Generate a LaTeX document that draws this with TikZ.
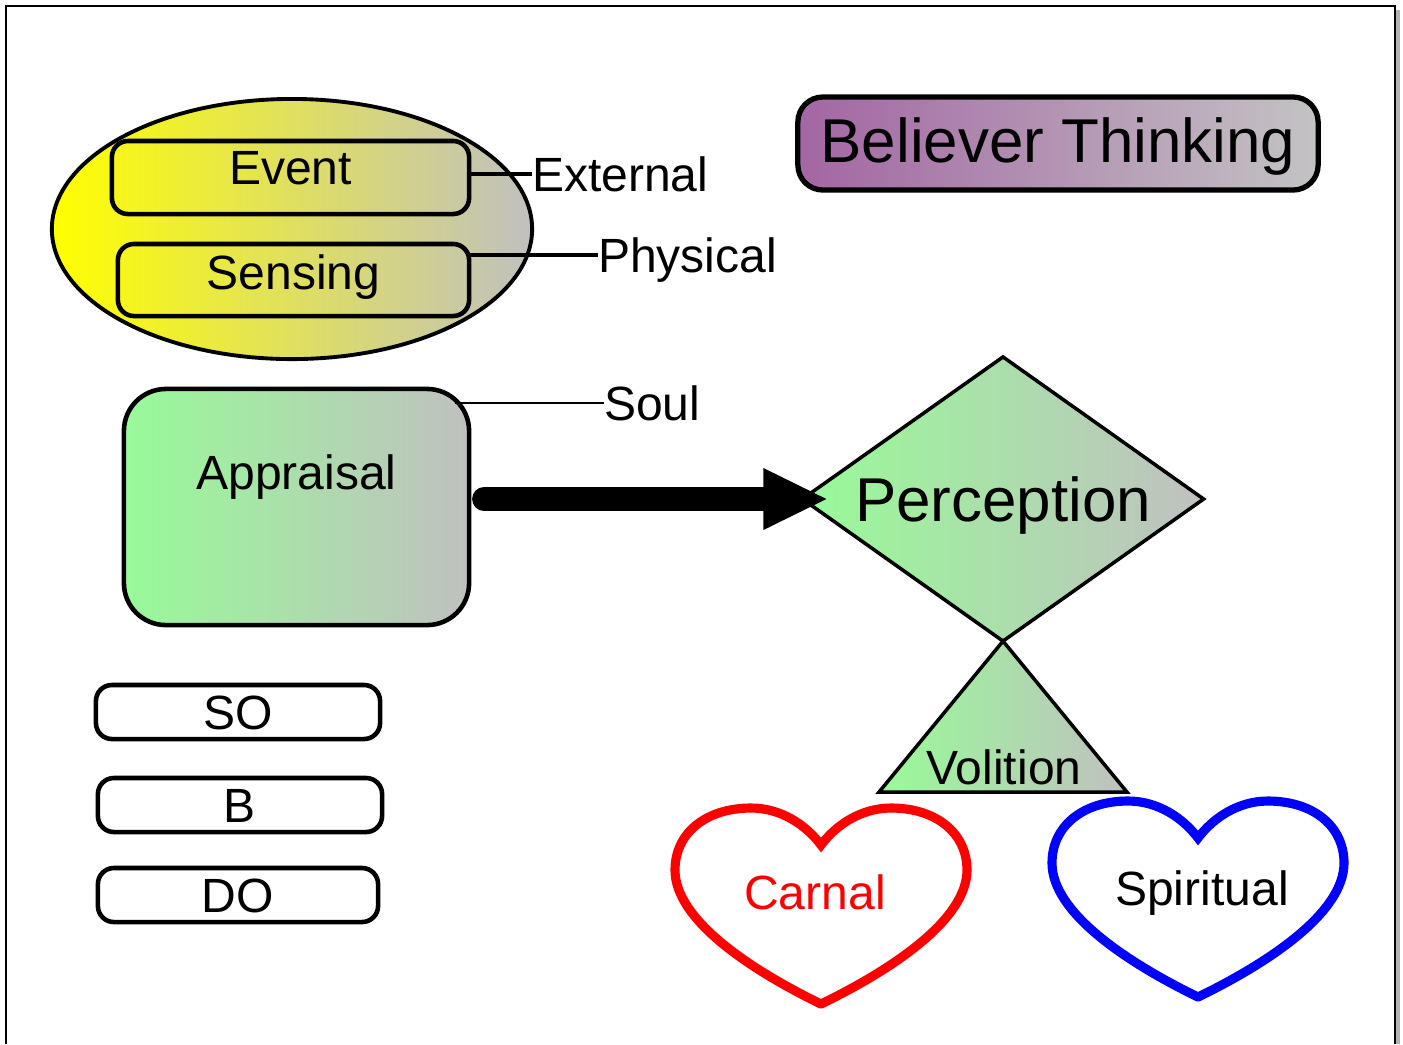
\documentclass[tikz,border=0pt]{standalone}
\usepackage{fontspec}
\setmainfont{Liberation Sans}
\usepackage{tikz}
\usetikzlibrary{shapes.geometric, arrows.meta, calc}

\definecolor{lemon}{RGB}{255,255,0}
\definecolor{silver}{RGB}{192,192,192}
\definecolor{mint}{RGB}{152,251,152}
\definecolor{mauvefill}{RGB}{163,102,163}

\newcommand{\midsize}{\fontsize{13.66}{16}\selectfont}
\newcommand{\bigsize}{\fontsize{17.6}{21}\selectfont}

\tikzset{
  pill/.style={draw, line width=1.3pt, rounded corners=0.16cm, inner sep=0pt, outer sep=0pt, text height=0.34cm, text depth=0pt, font=\midsize},
  tag/.style={inner sep=0pt, outer sep=0pt, text height=0.34cm, text depth=0pt, font=\midsize},
  link/.style={line width=0.9pt},
  heart/.pic={
    \draw[line cap=round] (0,159) .. controls (-70,125) and (-146,75) .. (-146,25)
      .. controls (-146,-12) and (-115,-37) .. (-70,-37)
      .. controls (-40,-37) and (-15,-20) .. (0,0)
      .. controls (15,-20) and (40,-37) .. (70,-37)
      .. controls (115,-37) and (146,-12) .. (146,25)
      .. controls (146,75) and (70,125) .. (0,159);
  }
}

\begin{document}
\begin{tikzpicture}[x=0.01cm, y=-0.01cm]
\useasboundingbox (0,0) rectangle (1403,1044);
\draw[gray!60, line width=1.2pt] (1398,10) -- (1398,1044);
\draw[line width=0.7pt] (6,1044) -- (6,6) -- (1395,6) -- (1395,1044);

\node[ellipse, draw, line width=1.1pt, left color=lemon, right color=silver, minimum width=4.8cm, minimum height=2.6cm, inner sep=0pt, outer sep=0pt] (world) at (292,229) {};
\node[pill, left color=lemon!87!silver, right color=lemon!13!silver, minimum width=3.57cm, minimum height=0.73cm, text depth=0.2cm] (ev) at (290.5,177.5) {Event};
\node[pill, left color=lemon!86!silver, right color=lemon!13!silver, minimum width=3.51cm, minimum height=0.72cm, text depth=0.16cm] (sen) at (293.5,280) {Sensing};
\node[tag, anchor=west] (ext) at (532,174) {External};
\node[tag, anchor=west] (phy) at (598,255) {Physical};
\draw[link] (ev.east |- ext.west) -- (ext.west);
\draw[link] (sen.east |- phy.west) -- (phy.west);

\node[pill, rounded corners=0.42cm, left color=mint, right color=silver, minimum width=3.45cm, minimum height=2.36cm, text depth=0.7cm] (app) at (296.5,507) {Appraisal};
\node[tag, anchor=west] (soul) at (604,403) {Soul};
\draw[line width=0.7pt] ($(app.east |- soul.west)+(-14,0)$) -- (soul.west);

\node[pill, line width=1.5pt, rounded corners=0.25cm, left color=mauvefill, right color=silver!95!white, minimum width=5.2cm, minimum height=0.93cm, font=\bigsize, text height=0.44cm, text depth=0.07cm] (title) at (1058,143.5) {Believer Thinking};

\node[diamond, aspect=1.41, draw, line width=1pt, left color=mint, right color=silver, minimum width=4.01cm, minimum height=2.84cm, inner sep=0pt, outer sep=0pt, font=\bigsize, text height=0.44cm, text depth=0pt] (per) at (1003,499) {Perception};
\draw[line width=1pt, left color=mint, right color=silver] (per.south) -- ++(124,151) -- ++(-248,0) -- cycle;
\node[tag] (vol) at (1004,767) {Volition};

\draw[line width=0.24cm, line cap=round, -{Triangle[length=0.63cm, width=0.62cm, line width=0pt]}] ($(app.east |- per.west)+(15,0)$) -- ($(per.west)+(24,0)$);

\node[pill, minimum width=2.84cm, minimum height=0.54cm] (so) at (238,712) {SO};
\node[pill, minimum width=2.84cm, minimum height=0.54cm] (b) at (240,805) {B};
\node[pill, minimum width=2.80cm, minimum height=0.54cm] (do) at (238,895) {DO};

\pic[color=red, line width=2.6pt] at (821,845) {heart};
\node[tag, red] (carnal) at (815,892) {Carnal};
\pic[color=blue, line width=2.6pt] at (1198,838) {heart};
\node[tag] (spirit) at (1202,888) {Spiritual};
\end{tikzpicture}
\end{document}
